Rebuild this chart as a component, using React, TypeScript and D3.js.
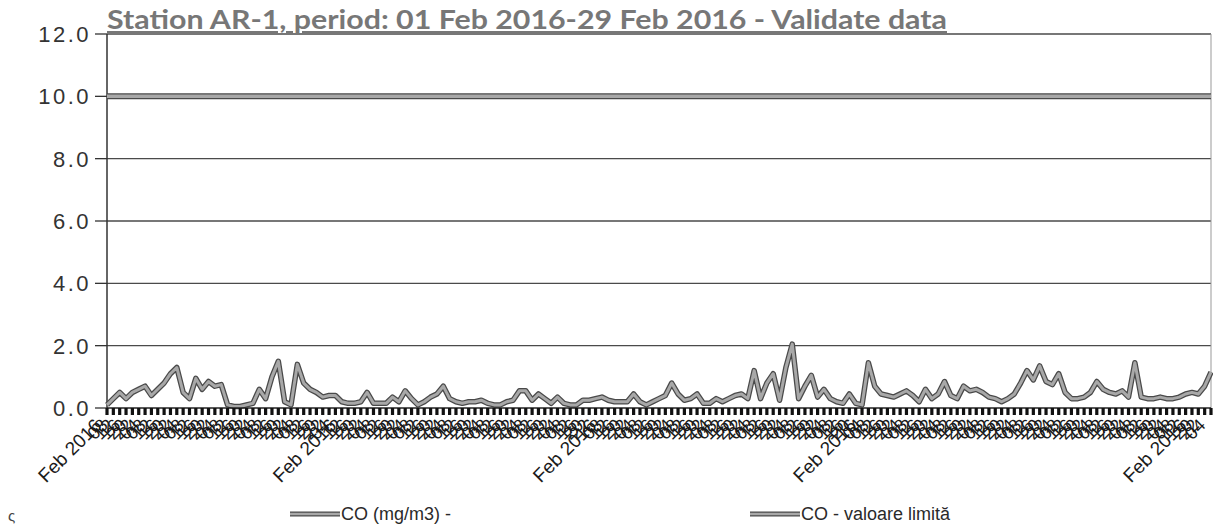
import React, { useRef, useEffect } from 'react';
import * as d3 from 'd3';

const title = 'Station AR-1, period: 01 Feb 2016-29 Feb 2016 - Validate data';
const yTicks = [0, 2, 4, 6, 8, 10, 12];
// CO readings every 4 hours, 01 Feb 00:00 -> 29 Feb 24:00
const coValues = [
  0.1, 0.3, 0.5, 0.3, 0.5, 0.6,
  0.7, 0.4, 0.6, 0.8, 1.1, 1.3,
  0.5, 0.3, 0.95, 0.6, 0.85, 0.7,
  0.75, 0.1, 0.05, 0.05, 0.1, 0.15,
  0.6, 0.3, 1.0, 1.5, 0.2, 0.1,
  1.4, 0.8, 0.6, 0.5, 0.35, 0.4,
  0.4, 0.2, 0.15, 0.15, 0.2, 0.5,
  0.15, 0.15, 0.15, 0.35, 0.2, 0.55,
  0.3, 0.1, 0.2, 0.35, 0.45, 0.7,
  0.3, 0.2, 0.15, 0.2, 0.2, 0.25,
  0.15, 0.1, 0.1, 0.2, 0.25, 0.55,
  0.55, 0.25, 0.45, 0.3, 0.15, 0.35,
  0.15, 0.1, 0.1, 0.25, 0.25, 0.3,
  0.35, 0.25, 0.2, 0.2, 0.2, 0.45,
  0.2, 0.1, 0.2, 0.3, 0.4, 0.8,
  0.45, 0.25, 0.3, 0.45, 0.15, 0.15,
  0.3, 0.2, 0.3, 0.4, 0.45, 0.3,
  1.2, 0.3, 0.8, 1.1, 0.25, 1.3,
  2.05, 0.3, 0.7, 1.05, 0.35, 0.6,
  0.3, 0.2, 0.15, 0.45, 0.15, 0.1,
  1.45, 0.7, 0.45, 0.4, 0.35, 0.45,
  0.55, 0.4, 0.2, 0.6, 0.3, 0.45,
  0.85, 0.4, 0.3, 0.7, 0.55, 0.6,
  0.5, 0.35, 0.3, 0.2, 0.3, 0.45,
  0.8, 1.2, 0.9, 1.35, 0.85, 0.75,
  1.1, 0.5, 0.3, 0.3, 0.35, 0.5,
  0.85, 0.6, 0.5, 0.45, 0.55, 0.35,
  1.45, 0.35, 0.3, 0.3, 0.35, 0.3,
  0.3, 0.35, 0.45, 0.5, 0.45, 0.7,
  1.15,
];
const limitValue = 10;
const stepHours = 4;
const dateLabelHours = [0, 148, 312, 476, 684];
const dateLabel = 'Feb 2016';
const hourLabels = ['04', '08', '12', '16', '20', '22'];
const legendItems = ['CO  (mg/m3)  -', 'CO  - valoare limită'];

export default function App() {
  const svgRef = useRef<SVGSVGElement>(null);

  useEffect(() => {
    const w = 1213;
    const h = 531;
    const left = 107;
    const right = 1211;
    const top = 34;
    const bottom = 408;
    const svg = d3.select(svgRef.current);
    svg.selectAll('*').remove();
    svg.attr('width', w).attr('height', h);

    const hours = coValues.map((d, i) => i * stepHours);
    const x = d3.scaleLinear().domain([0, d3.max(hours) as number]).range([left, right]);
    const y = d3.scaleLinear().domain([0, 12]).range([bottom, top]);

    // grid lines + y labels
    const grid = svg.append('g');
    grid
      .selectAll('line')
      .data(yTicks.filter((t) => t !== 10 && t !== 0))
      .join('line')
      .attr('x1', left)
      .attr('x2', right)
      .attr('y1', (d) => y(d))
      .attr('y2', (d) => y(d))
      .attr('stroke', '#4a4a4a')
      .attr('stroke-width', 1.3);
    grid
      .selectAll('.ytick')
      .data(yTicks)
      .join('line')
      .attr('class', 'ytick')
      .attr('x1', left - 12)
      .attr('x2', left)
      .attr('y1', (d) => y(d))
      .attr('y2', (d) => y(d))
      .attr('stroke', '#333')
      .attr('stroke-width', 1.3);
    grid
      .selectAll('text')
      .data(yTicks)
      .join('text')
      .attr('x', left - 16)
      .attr('y', (d) => y(d))
      .attr('dy', '0.36em')
      .attr('text-anchor', 'end')
      .attr('font-family', 'Liberation Sans, Arial, sans-serif')
      .attr('font-size', 22)
      .attr('letter-spacing', 2.5)
      .attr('fill', '#333')
      .text((d) => d.toFixed(1));

    // plot frame
    svg
      .append('line')
      .attr('x1', left)
      .attr('x2', left)
      .attr('y1', top)
      .attr('y2', bottom)
      .attr('stroke', '#333')
      .attr('stroke-width', 1.5);
    svg
      .append('line')
      .attr('x1', right)
      .attr('x2', right)
      .attr('y1', top)
      .attr('y2', bottom)
      .attr('stroke', '#999')
      .attr('stroke-width', 1);

    // series
    const line = d3
      .line<number>()
      .x((d, i) => x(hours[i]))
      .y((d) => y(d));
    const limitData = hours.map(() => limitValue);
    const drawSeries = (data: number[], outer: number, inner: number) => {
      svg
        .append('path')
        .attr('d', line(data))
        .attr('fill', 'none')
        .attr('stroke', '#4a4a4a')
        .attr('stroke-width', outer)
        .attr('stroke-linejoin', 'round');
      svg
        .append('path')
        .attr('d', line(data))
        .attr('fill', 'none')
        .attr('stroke', '#a8a8a8')
        .attr('stroke-width', inner)
        .attr('stroke-linejoin', 'round');
    };
    drawSeries(limitData, 6, 3.5);
    drawSeries(coValues, 5.5, 3);

    // x axis: dense tick marks and overlapping rotated labels
    const xa = svg.append('g');
    xa.append('line')
      .attr('x1', left)
      .attr('x2', right)
      .attr('y1', bottom)
      .attr('y2', bottom)
      .attr('stroke', '#222')
      .attr('stroke-width', 1.5);
    xa.selectAll('.xt')
      .data(hours)
      .join('line')
      .attr('class', 'xt')
      .attr('x1', (d) => x(d))
      .attr('x2', (d) => x(d))
      .attr('y1', bottom)
      .attr('y2', bottom + 7)
      .attr('stroke', '#111')
      .attr('stroke-width', 3.2);
    xa.selectAll('.xl')
      .data(hours)
      .join('text')
      .attr('class', 'xl')
      .attr('transform', (d) => `translate(${x(d) - 9},${bottom + 14}) rotate(-45)`)
      .attr('text-anchor', 'end')
      .attr('dy', '0.35em')
      .attr('font-family', 'Liberation Sans, Arial, sans-serif')
      .attr('font-size', (d) => (dateLabelHours.includes(d) ? 19 : 18))
      .attr('fill', '#1a1a1a')
      .text((d, i) => (dateLabelHours.includes(d) ? dateLabel : hourLabels[i % hourLabels.length]));

    // title
    svg
      .append('text')
      .attr('x', left)
      .attr('y', 29)
      .attr('font-family', 'Lato, Open Sans, sans-serif')
      .attr('font-weight', 'bold')
      .attr('font-size', 26)
      .attr('fill', '#777')
      .attr('textLength', 840)
      .attr('lengthAdjust', 'spacingAndGlyphs')
      .style('text-decoration', 'underline')
      .text(title);

    // legend
    const legendX = [290, 750];
    const lg = svg
      .selectAll('.lg')
      .data(legendItems)
      .join('g')
      .attr('class', 'lg')
      .attr('transform', (d, i) => `translate(${legendX[i]},514)`);
    lg.append('line').attr('x1', 0).attr('x2', 50).attr('stroke', '#4a4a4a').attr('stroke-width', 5);
    lg.append('line').attr('x1', 0).attr('x2', 50).attr('stroke', '#a8a8a8').attr('stroke-width', 2.5);
    lg.append('text')
      .attr('x', 51)
      .attr('dy', '0.35em')
      .attr('font-family', 'Liberation Sans, Arial, sans-serif')
      .attr('font-size', 18)
      .attr('fill', '#2a2a2a')
      .text((d) => d);
    svg
      .append('text')
      .attr('x', 8)
      .attr('y', 521)
      .attr('font-family', 'Liberation Sans, Arial, sans-serif')
      .attr('font-size', 15)
      .attr('fill', '#444')
      .text('ς');
  }, []);

  return <svg ref={svgRef} style={{ position: 'absolute', left: 0, top: 0, background: '#fff' }}></svg>;
}
